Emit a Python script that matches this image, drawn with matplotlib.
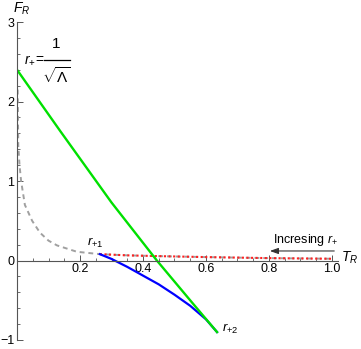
import matplotlib
matplotlib.use('Agg')
import matplotlib.pyplot as plt
from matplotlib.lines import Line2D
from matplotlib.ticker import MultipleLocator, FixedLocator

plt.rcParams['font.family'] = ['Liberation Sans', 'DejaVu Sans']
plt.rcParams['mathtext.fontset'] = 'custom'
plt.rcParams['mathtext.rm'] = 'Liberation Sans'
plt.rcParams['mathtext.it'] = 'Liberation Sans:italic'

# green branch
green_T = [0.0, 0.137, 0.30, 0.444, 0.556, 0.635]
green_F = [2.40, 1.63, 0.73, 0.0, -0.53, -0.90]

# blue branch (r+1 -> r+2)
blue_T = [0.263, 0.30, 0.35, 0.40, 0.45, 0.50, 0.55, 0.60, 0.635]
blue_F = [0.08, 0.02, -0.08, -0.19, -0.30, -0.43, -0.57, -0.74, -0.90]

# gray dashed branch
gray_T = [0.002, 0.004, 0.008, 0.013, 0.025, 0.048, 0.073, 0.10, 0.127, 0.19, 0.263,
          0.35, 0.45, 0.6, 0.8, 1.0]
gray_F = [2.15, 1.45, 1.20, 1.00, 0.70, 0.50, 0.35, 0.25, 0.19, 0.11, 0.08,
          0.065, 0.055, 0.043, 0.030, 0.022]

# red dotted branch
red_T = [0.263, 0.35, 0.45, 0.6, 0.8, 1.0]
red_F = [0.08, 0.065, 0.055, 0.043, 0.030, 0.022]

x_major = [0.2, 0.4, 0.6, 0.8, 1.0]
x_labels = ['0.2', '0.4', '0.6', '0.8', '1.0']
y_major = [-1, 0, 1, 2, 3]
y_labels = ['\u22121', '0', '1', '2', '3']

fig = plt.figure(figsize=(3.61, 3.49), dpi=100)
ax = fig.add_axes([0.0471, 0.0258, 0.890, 0.911])

ax.plot(gray_T, gray_F, color='#a0a0a0', lw=1.4, ls=(0, (2.5, 2)))
ax.plot(red_T, red_F, color='#ff2020', lw=1.5, ls=(0, (1, 1.2)))
ax.plot(blue_T, blue_F, color='#0000ff', lw=1.6)
ax.plot(green_T, green_F, color='#00e000', lw=1.7)

ax.set_xlim(0, 1.02)
ax.set_ylim(-1.0, 3.0)

for s in ['top', 'right']:
    ax.spines[s].set_visible(False)
ax.spines['left'].set_position(('data', 0))
ax.spines['bottom'].set_position(('data', 0))
for s in ['left', 'bottom']:
    ax.spines[s].set_color('#555555')
    ax.spines[s].set_linewidth(0.8)

ax.xaxis.set_major_locator(FixedLocator(x_major))
ax.set_xticklabels(x_labels)
ax.xaxis.set_minor_locator(MultipleLocator(0.05))
ax.yaxis.set_major_locator(FixedLocator(y_major))
ax.set_yticklabels(y_labels)
ax.yaxis.set_minor_locator(MultipleLocator(0.2))
ax.tick_params(which='both', direction='in', color='#555555', labelsize=9, pad=2)
ax.tick_params(which='major', length=4, width=0.7)
ax.tick_params(which='minor', length=2.3, width=0.6)
ax.patch.set_visible(False)

ax.text(-0.012, 3.17, r'$F_R$', fontsize=10, ha='left', va='center', clip_on=False)
ax.text(1.03, 0.04, r'$T_R$', fontsize=10, ha='left', va='center', clip_on=False)

# r+ = 1/sqrt(Lambda), laid out like the original
ax.text(0.087, 2.52, r'$r_{+}\!=$', fontsize=10, ha='right', va='center')
ax.text(0.125, 2.73, '1', fontsize=11, ha='center', va='center')
ax.text(0.125, 2.32, r'$\sqrt{\Lambda}$', fontsize=11, ha='center', va='center')
ax.add_line(Line2D([0.085, 0.168], [2.525, 2.525], color='black', lw=0.9))

ax.text(0.248, 0.22, r'$r_{+1}$', fontsize=9.5, ha='center', va='center')
ax.text(0.651, -0.86, r'$r_{+2}$', fontsize=9.5, ha='left', va='center')
ax.text(0.917, 0.26, r'Incresing $r_{+}$', fontsize=9, ha='center', va='center')
ax.annotate('', xy=(0.794, 0.12), xytext=(1.016, 0.12),
            arrowprops=dict(arrowstyle='-|>,head_length=0.5,head_width=0.18',
                            color='#333333', lw=0.8))

fig.savefig('out.png', dpi=100)
